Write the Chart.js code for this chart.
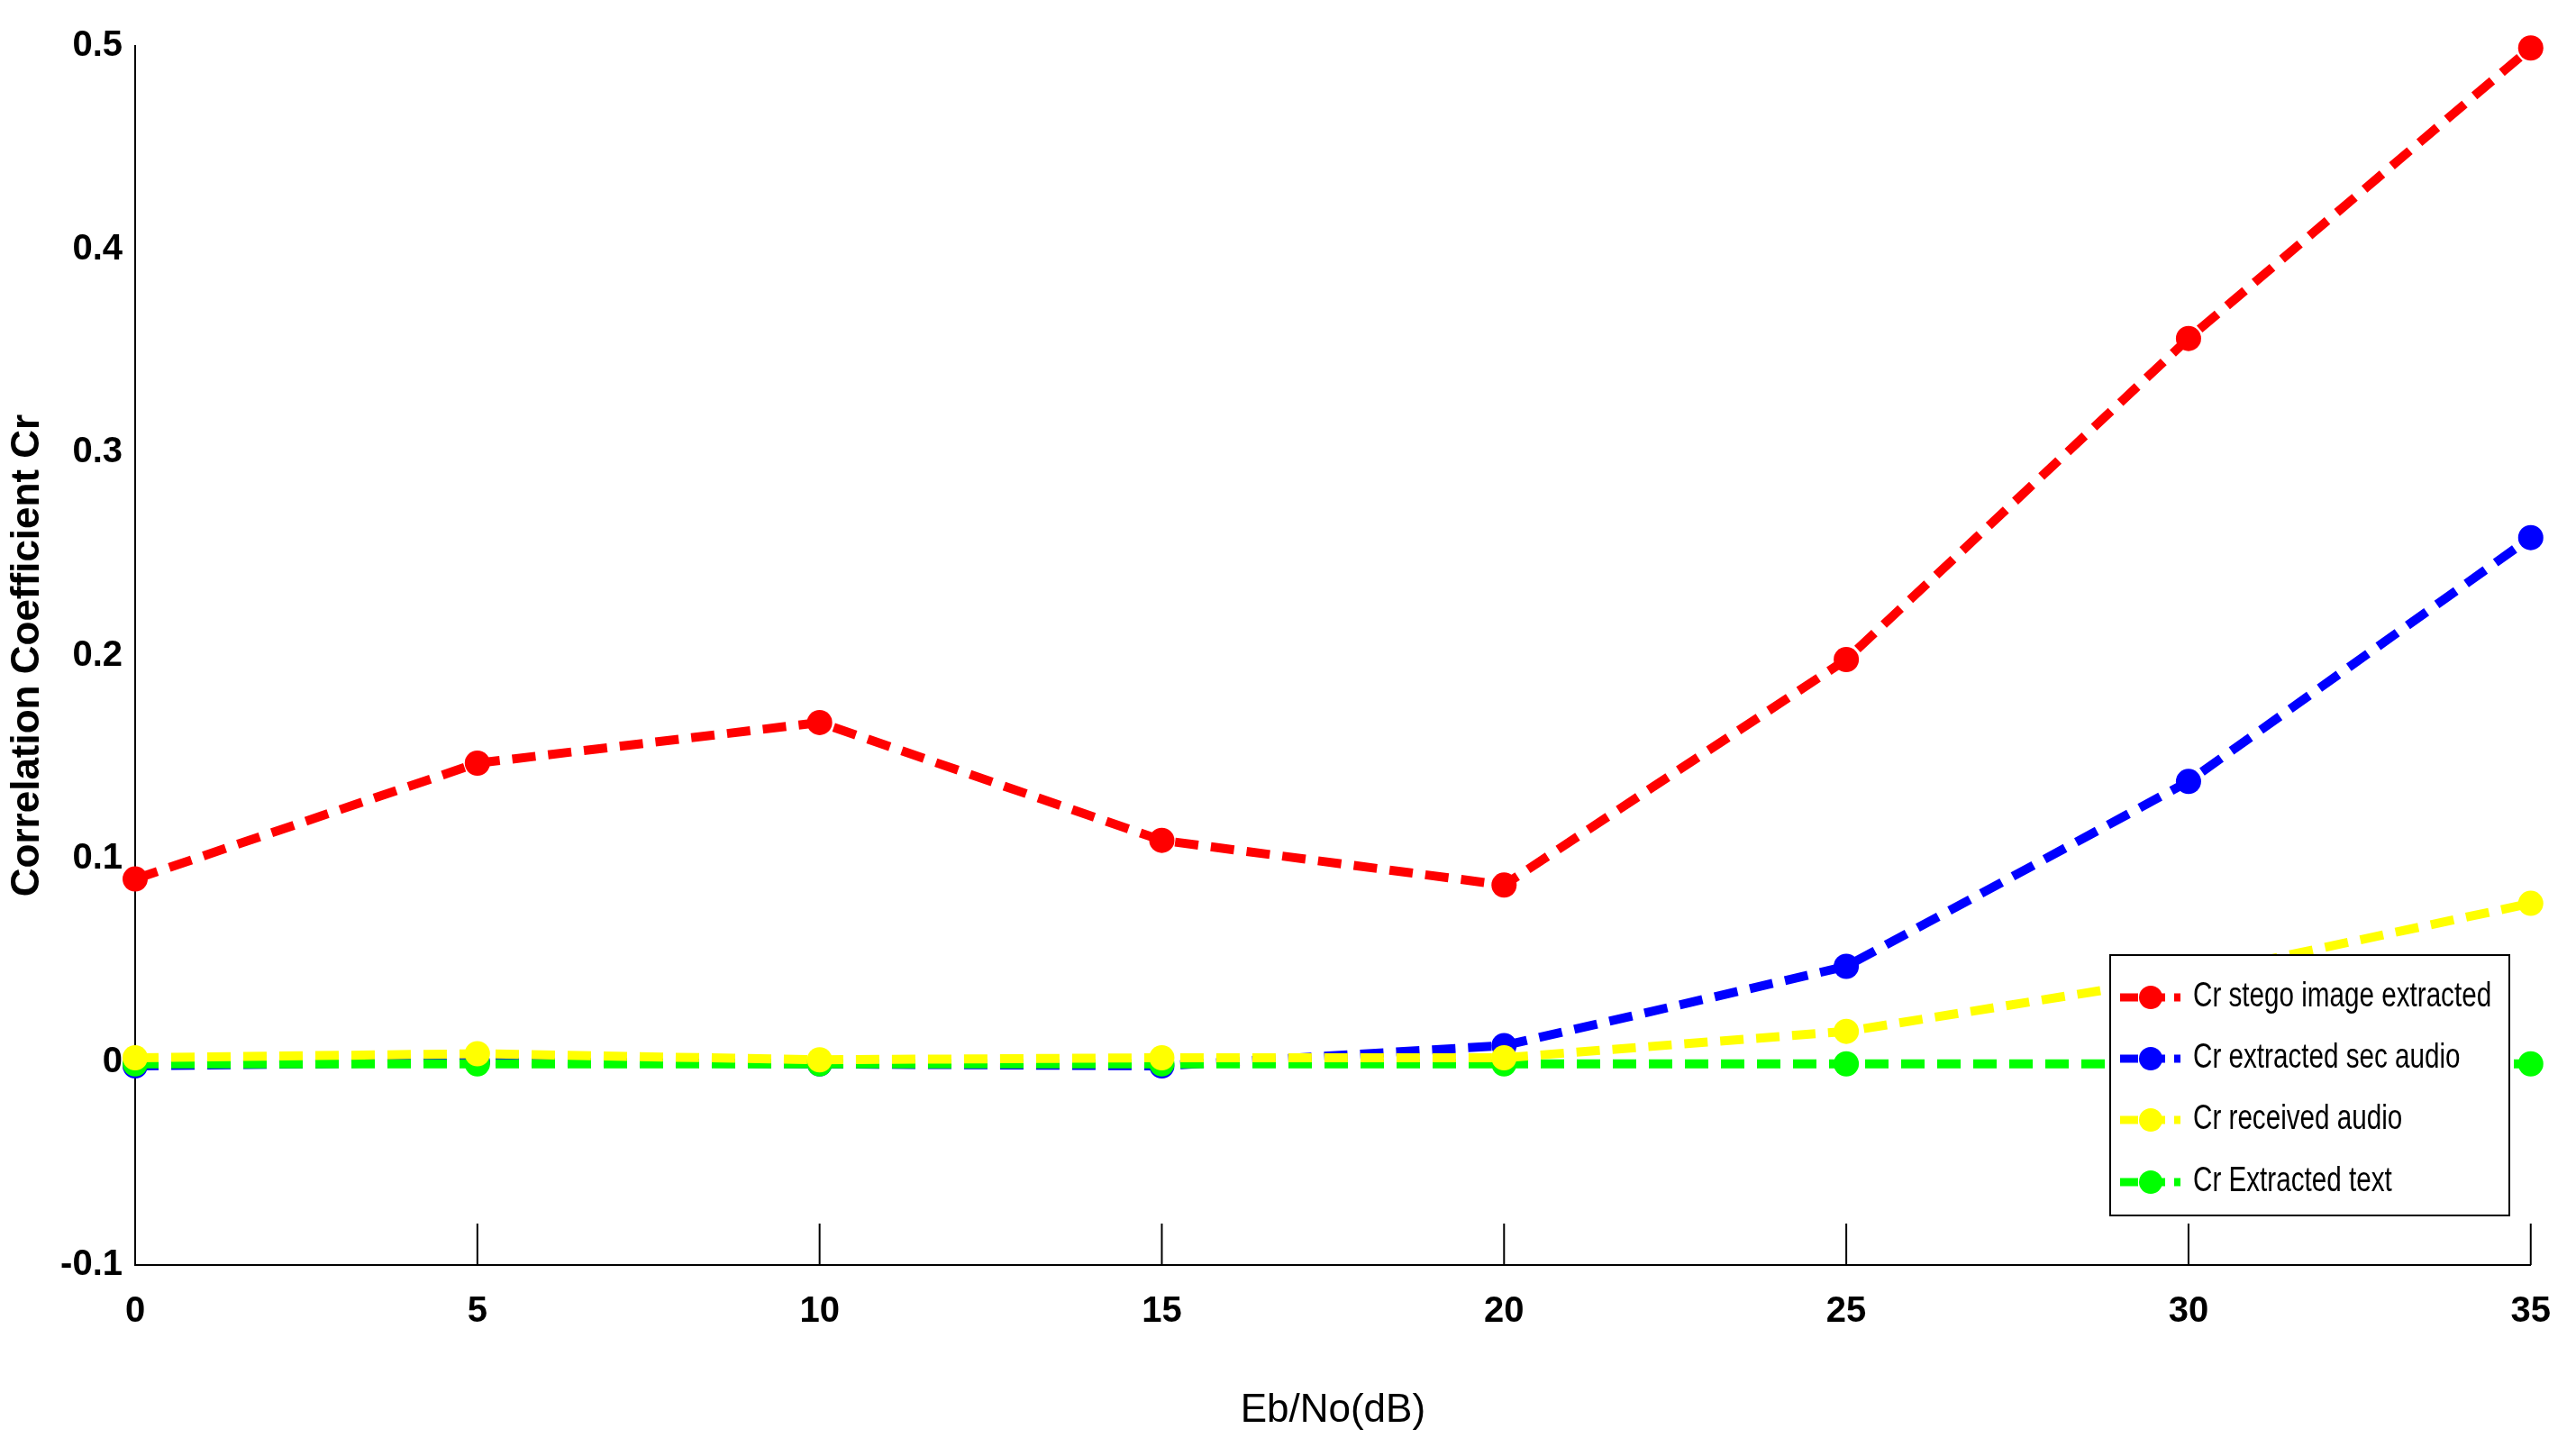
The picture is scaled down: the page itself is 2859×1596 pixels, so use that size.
<!DOCTYPE html>
<html>
<head>
<meta charset="utf-8">
<script src="https://cdn.jsdelivr.net/npm/chart.js@4"></script>
<style>
  html, body { margin: 0; padding: 0; background: #fff; }
  #wrap { width: 2859px; height: 1596px; }
</style>
</head>
<body>
<div id="wrap"><canvas id="c"></canvas></div>
<script>
// Eb/No (dB) points
const ebno = [0, 5, 10, 15, 20, 25, 30, 35];

// correlation coefficient per series
const crStego    = [0.090, 0.147, 0.167, 0.109, 0.087, 0.198, 0.356, 0.499];
const crSecAudio = [-0.002, 0.000, -0.001, -0.002, 0.008, 0.047, 0.138, 0.258];
const crReceived = [0.002, 0.004, 0.001, 0.002, 0.002, 0.015, 0.042, 0.078];
const crText     = [-0.001, -0.001, -0.001, -0.001, -0.001, -0.001, -0.001, -0.001];

const seriesNames  = ['Cr stego image extracted', 'Cr extracted sec audio', 'Cr received audio', 'Cr Extracted text'];
const seriesColors = ['#ff0000', '#0000ff', '#ffff00', '#00ff00'];
const yTicks = [-0.1, 0, 0.1, 0.2, 0.3, 0.4, 0.5];

const FONT = '"Liberation Sans", Arial, sans-serif';
const DASH = [26, 14];

const mkSet = (i, vals, order) => ({
  label: seriesNames[i],
  data: ebno.map((x, k) => ({ x, y: vals[k] })),
  borderColor: seriesColors[i],
  backgroundColor: seriesColors[i],
  borderWidth: 10,
  borderDash: DASH,
  pointRadius: 14,
  pointBorderWidth: 0,
  tension: 0,
  clip: false,
  order,
});

// matlab-style inward ticks on x + boxed legend at lower right
const matlabBits = {
  id: 'matlabBits',
  afterDatasetsDraw(chart) {
    const { ctx, chartArea: a, scales } = chart;
    ctx.save();
    ctx.strokeStyle = '#000';
    ctx.lineWidth = 2;
    ebno.forEach((v) => {
      const px = scales.x.getPixelForValue(v);
      ctx.beginPath();
      ctx.moveTo(px, a.bottom);
      ctx.lineTo(px, a.bottom - 46);
      ctx.stroke();
    });

    // legend
    const bx = 2342, by = 1060, bw = 443, bh = 289;
    ctx.fillStyle = '#fff';
    ctx.fillRect(bx, by, bw, bh);
    ctx.strokeRect(bx, by, bw, bh);
    const rows = [1107, 1175, 1243, 1312];
    ctx.textBaseline = 'middle';
    rows.forEach((ry, i) => {
      ctx.strokeStyle = seriesColors[i];
      ctx.lineWidth = 9;
      ctx.setLineDash([20, 10]);
      ctx.beginPath();
      ctx.moveTo(2353, ry);
      ctx.lineTo(2420, ry);
      ctx.stroke();
      ctx.setLineDash([]);
      ctx.fillStyle = seriesColors[i];
      ctx.beginPath();
      ctx.arc(2387, ry, 13, 0, Math.PI * 2);
      ctx.fill();
      // condensed look: squeeze text horizontally
      ctx.save();
      ctx.translate(2434, ry);
      ctx.scale(0.78, 1);
      ctx.font = '38px ' + FONT;
      ctx.fillStyle = '#000';
      ctx.fillText(seriesNames[i], 0, 0);
      ctx.restore();
    });
    ctx.restore();
  },
};

new Chart(document.getElementById('c'), {
  type: 'line',
  data: {
    datasets: [
      mkSet(0, crStego, 1),
      mkSet(1, crSecAudio, 4),
      mkSet(2, crReceived, 2),
      mkSet(3, crText, 3),
    ],
  },
  options: {
    responsive: true, maintainAspectRatio: false, animation: false,
    layout: { padding: { top: 51, right: 42, left: 0, bottom: 0 } },
    plugins: { legend: { display: false }, tooltip: { enabled: false } },
    scales: {
      x: {
        type: 'linear', min: 0, max: 35,
        afterBuildTicks: (s) => { s.ticks = ebno.map((v) => ({ value: v })); },
        afterFit: (s) => { s.height = 192; },
        grid: { display: false, drawTicks: false },
        border: { display: true, color: '#000', width: 2 },
        ticks: { color: '#000', padding: 28, font: { family: FONT, size: 40, weight: 'bold' } },
        title: { display: true, text: 'Eb/No(dB)', color: '#000', padding: { top: 22 },
                 font: { family: FONT, size: 44 } },
      },
      y: {
        min: -0.1, max: 0.5,
        afterBuildTicks: (s) => { s.ticks = yTicks.map((v) => ({ value: v })); },
        afterFit: (s) => { s.width = 150; },
        grid: { display: false, drawTicks: false },
        border: { display: true, color: '#000', width: 2 },
        ticks: { color: '#000', padding: 14, font: { family: FONT, size: 40, weight: 'bold' },
                 callback: (v) => String(Math.round(v * 10) / 10) },
        title: { display: true, text: 'Correlation Coefficient Cr', color: '#000', padding: { bottom: 6 },
                 font: { family: FONT, size: 44, weight: 'bold' } },
      },
    },
  },
  plugins: [matlabBits],
});
</script>
</body>
</html>
